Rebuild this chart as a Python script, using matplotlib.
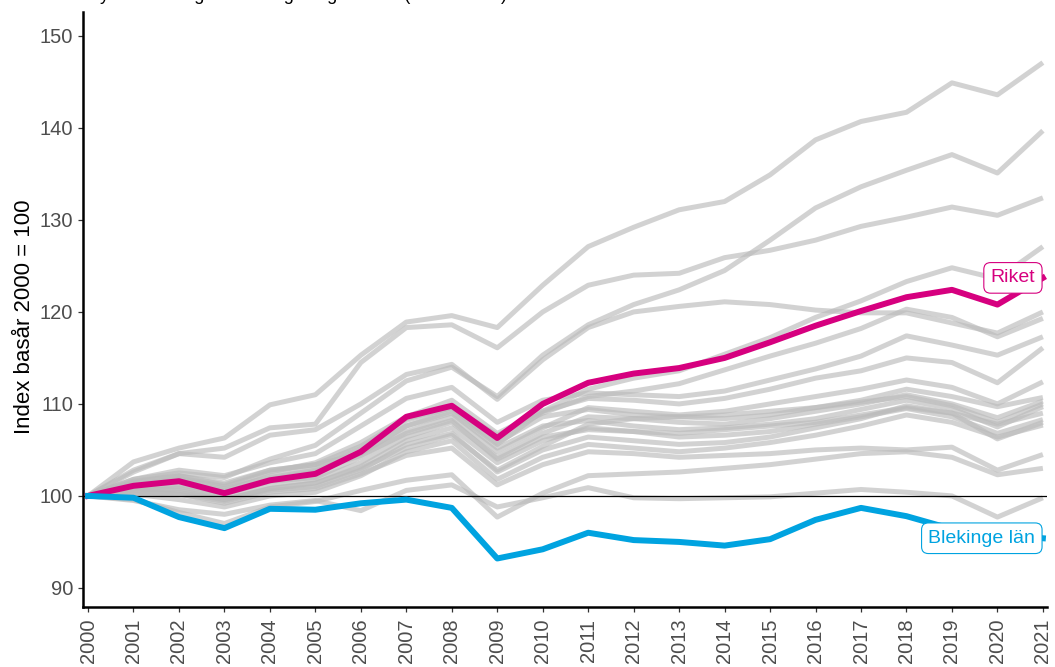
import matplotlib
matplotlib.use("Agg")
import matplotlib.pyplot as plt
import numpy as np

plt.rcParams['font.family'] = ['Liberation Sans', 'DejaVu Sans']

years = list(range(2000, 2022))

riket = [100, 101.1, 101.6, 100.3, 101.7, 102.4, 104.8, 108.6, 109.8, 106.3, 110.0,
         112.3, 113.3, 113.9, 115.0, 116.7, 118.5, 120.1, 121.6, 122.4, 120.8, 123.7]
blekinge = [100, 99.8, 97.7, 96.5, 98.6, 98.5, 99.2, 99.6, 98.7, 93.2, 94.2,
            96.0, 95.2, 95.0, 94.6, 95.3, 97.4, 98.7, 97.8, 96.4, 95.8, 95.4]

# övriga län, ritas i grått bakom
ovriga_lan = [
    [100, 103.7, 105.2, 106.3, 109.9, 111.0, 115.3, 118.9, 119.6, 118.3, 122.9, 127.1, 129.2, 131.1, 132.0, 134.9, 138.7, 140.7, 141.7, 144.9, 143.6, 147.1],
    [100, 101.8, 102.5, 102.0, 104.0, 105.5, 109.0, 112.5, 114.0, 110.8, 115.3, 118.6, 120.8, 122.4, 124.5, 127.8, 131.3, 133.6, 135.4, 137.1, 135.1, 139.7],
    [100, 102.8, 104.6, 105.2, 107.4, 107.8, 114.5, 118.3, 118.6, 116.1, 120.0, 122.9, 124.0, 124.2, 125.9, 126.7, 127.8, 129.3, 130.3, 131.4, 130.5, 132.4],
    [100, 101.6, 102.2, 101.2, 102.8, 103.4, 104.6, 107.6, 109.2, 105.6, 109.2, 111.6, 112.8, 113.6, 115.4, 117.2, 119.4, 121.2, 123.3, 124.8, 123.6, 127.1],
    [100, 102.6, 104.6, 104.2, 106.6, 107.2, 110.0, 113.2, 114.3, 110.5, 114.8, 118.3, 120.0, 120.6, 121.1, 120.8, 120.2, 119.9, 119.9, 118.8, 117.7, 120.0],
    [100, 101.0, 101.6, 100.6, 102.2, 103.0, 105.2, 108.2, 109.6, 106.6, 109.0, 110.8, 111.4, 112.2, 113.7, 115.2, 116.6, 118.2, 120.3, 119.4, 117.3, 119.3],
    [100, 101.8, 102.8, 102.2, 103.6, 104.6, 107.6, 110.6, 111.8, 108.0, 110.4, 111.2, 111.0, 110.8, 111.4, 112.6, 113.8, 115.2, 117.4, 116.4, 115.3, 117.3],
    [100, 101.2, 102.0, 101.0, 102.6, 103.6, 105.8, 108.6, 110.4, 106.8, 109.2, 110.6, 110.4, 110.0, 110.6, 111.6, 112.8, 113.6, 115.0, 114.5, 112.3, 116.1],
    [100, 100.8, 101.0, 100.2, 101.6, 102.0, 104.2, 107.0, 108.6, 104.8, 107.4, 109.6, 109.2, 108.8, 109.2, 110.0, 110.8, 111.6, 112.6, 111.8, 110.0, 112.4],
    [100, 101.4, 102.2, 101.4, 102.8, 103.4, 105.4, 108.4, 109.6, 105.8, 108.6, 109.4, 108.8, 108.6, 108.4, 108.8, 109.6, 110.4, 111.6, 110.8, 109.7, 110.7],
    [100, 100.6, 100.8, 99.8, 101.2, 101.8, 103.6, 106.4, 108.0, 104.2, 106.8, 108.6, 108.4, 108.0, 107.8, 108.4, 109.2, 110.0, 111.0, 110.0, 108.5, 110.3],
    [100, 101.0, 101.2, 100.4, 101.8, 102.6, 104.8, 107.6, 109.0, 105.2, 107.6, 108.2, 107.6, 107.2, 107.4, 107.8, 108.4, 109.4, 110.4, 109.5, 107.5, 109.7],
    [100, 100.4, 100.2, 99.4, 100.6, 101.0, 102.8, 105.6, 106.8, 102.6, 105.0, 106.4, 106.0, 105.6, 105.8, 106.4, 107.4, 108.4, 109.8, 109.0, 107.8, 109.0],
    [100, 100.8, 100.6, 99.6, 100.8, 101.4, 103.2, 106.0, 107.4, 103.6, 106.0, 107.4, 107.0, 106.4, 106.6, 107.0, 107.8, 108.6, 109.5, 108.6, 106.8, 108.3],
    [100, 100.2, 99.6, 98.8, 100.0, 100.4, 102.2, 104.8, 106.0, 101.8, 104.2, 105.6, 105.2, 104.8, 105.2, 105.8, 106.6, 107.6, 108.8, 108.0, 106.4, 107.7],
    [100, 100.6, 100.2, 99.2, 100.4, 100.8, 102.4, 104.4, 105.2, 101.2, 103.4, 104.8, 104.6, 104.2, 104.4, 104.6, 105.0, 105.2, 105.0, 105.3, 102.8, 104.5],
    [100, 99.6, 98.2, 97.0, 98.8, 99.4, 100.6, 101.7, 102.3, 97.7, 100.3, 102.2, 102.4, 102.6, 103.0, 103.4, 104.0, 104.6, 104.8, 104.2, 102.3, 103.0],
    [100, 99.5, 98.5, 98.0, 99.0, 99.5, 98.4, 100.6, 101.2, 98.8, 99.8, 100.9, 99.8, 99.7, 99.8, 99.9, 100.3, 100.7, 100.4, 100.0, 97.7, 99.8],
    [100, 101.2, 101.8, 100.8, 102.0, 102.8, 104.4, 106.8, 108.2, 104.0, 106.4, 107.2, 107.0, 106.8, 107.2, 107.6, 108.0, 108.8, 109.6, 109.0, 106.2, 108.0],
    [100, 100.2, 100.4, 99.6, 100.8, 101.4, 103.0, 105.2, 106.6, 102.8, 105.4, 107.8, 108.4, 108.6, 108.8, 109.2, 109.6, 110.2, 110.8, 109.8, 108.0, 110.0],
]

y_ticks = [90, 100, 110, 120, 130, 140, 150]

rosa = '#d6007f'
bla = '#00a3e0'

fig = plt.figure(figsize=(10.55, 6.67), dpi=100)
ax = fig.add_axes([0.0787, 0.09, 0.9137, 0.892])

for serie in ovriga_lan:
    ax.plot(years, serie, color='#bbbbbb', alpha=0.65, lw=3.6,
            solid_joinstyle='round', solid_capstyle='butt', zorder=2)

ax.axhline(100, color='black', lw=0.9, zorder=3)

ax.plot(years, riket, color=rosa, lw=4.3, solid_joinstyle='round', zorder=4)
ax.plot(years, blekinge, color=bla, lw=4.3, solid_joinstyle='round', zorder=4)

for namn, serie, farg in [('Riket', riket, rosa), ('Blekinge län', blekinge, bla)]:
    ax.annotate(namn, xy=(years[-1], serie[-1]), xytext=(-5.5, 0),
                textcoords='offset points', ha='right', va='center',
                fontsize=14, color=farg, zorder=5,
                bbox=dict(boxstyle='round,pad=0.35', fc='white', ec=farg, lw=0.8))

ax.set_xlim(1999.89, 2021.09)
ax.set_ylim(87.93, 152.6)
ax.set_xticks(years)
ax.set_xticklabels([str(y) for y in years], rotation=90)
ax.set_yticks(y_ticks)

for side in ['top', 'right']:
    ax.spines[side].set_visible(False)
for side in ['left', 'bottom']:
    ax.spines[side].set_linewidth(1.8)
    ax.spines[side].set_color('black')

ax.tick_params(axis='both', length=3.5, width=0.9, color='#333333',
               labelcolor='#4d4d4d', labelsize=14.5)
ax.tick_params(axis='y', pad=3.5)
ax.tick_params(axis='x', pad=5)

ax.set_ylabel('Index basår 2000 = 100', fontsize=16, color='black')
ax.yaxis.set_label_coords(-0.05, 0.487)

fig.text(0.083, 1.0, 'Sysselsättningsutveckling enligt RAMS (2000–2021)',
         fontsize=13, ha='left', va='baseline')

fig.savefig('out.png', dpi=100)
